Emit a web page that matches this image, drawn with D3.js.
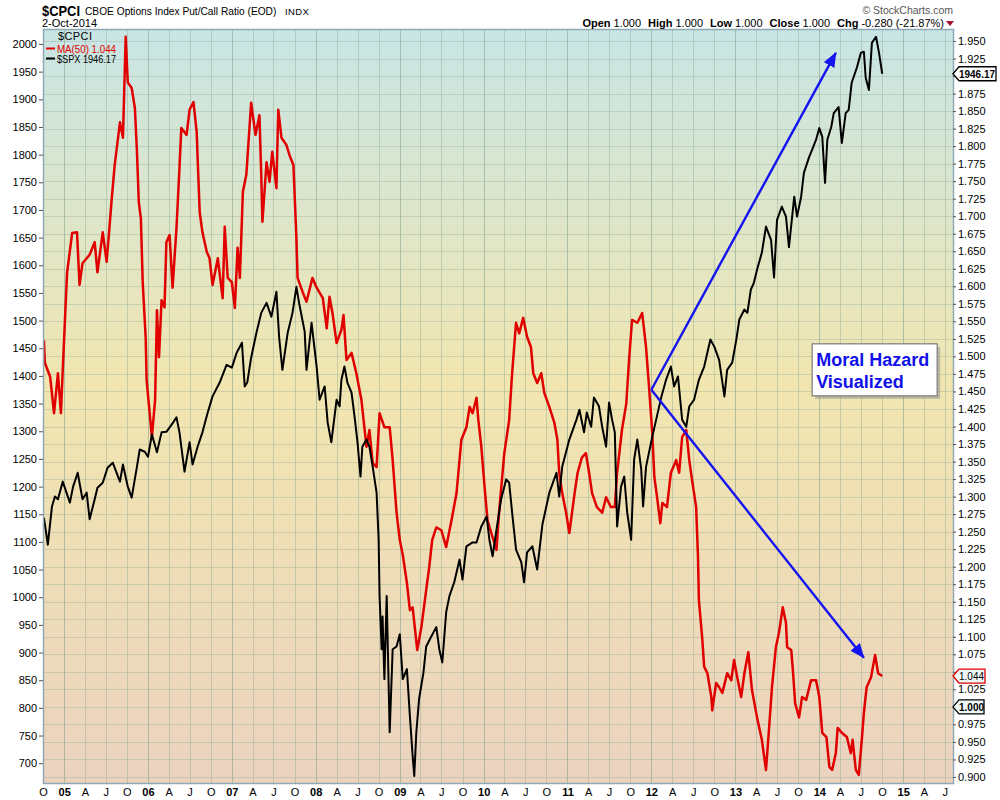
<!DOCTYPE html>
<html>
<head>
<meta charset="utf-8">
<script src="https://cdn.jsdelivr.net/npm/d3@7"></script>
<style>
  body { margin: 0; background: #fff; }
  svg { display: block; font-family: "Liberation Sans", Arial, sans-serif; }
</style>
</head>
<body>
<svg id="chart" width="1000" height="800"></svg>
<script>
// $CPCI 50-day MA (right axis)
const cpciMA50 = [
  ["2004-10-05",1.523],["2004-10-09",1.491],["2004-11-01",1.471],["2004-11-18",1.419],["2004-12-05",1.476],
  ["2004-12-18",1.419],["2004-12-26",1.481],["2005-01-05",1.555],["2005-01-14",1.620],["2005-02-05",1.676],
  ["2005-02-26",1.677],["2005-03-09",1.602],["2005-03-22",1.633],["2005-04-22",1.645],["2005-05-14",1.663],
  ["2005-05-26",1.620],["2005-06-18",1.677],["2005-07-05",1.635],["2005-07-18",1.687],["2005-07-26",1.720],
  ["2005-08-09",1.773],["2005-09-01",1.834],["2005-09-14",1.812],["2005-09-26",1.956],["2005-10-05",1.891],
  ["2005-10-22",1.883],["2005-11-05",1.854],["2005-11-14",1.792],["2005-11-22",1.720],["2005-12-01",1.697],
  ["2005-12-09",1.606],["2005-12-22",1.526],["2005-12-26",1.466],["2006-01-18",1.385],["2006-02-01",1.438],
  ["2006-02-09",1.566],["2006-02-18",1.499],["2006-03-01",1.580],["2006-03-14",1.570],["2006-03-22",1.663],
  ["2006-04-05",1.673],["2006-04-18",1.598],["2006-05-05",1.683],["2006-05-18",1.769],["2006-05-26",1.826],
  ["2006-06-18",1.816],["2006-07-01",1.852],["2006-07-18",1.863],["2006-08-01",1.820],["2006-08-05",1.783],
  ["2006-08-14",1.706],["2006-08-26",1.677],["2006-09-14",1.649],["2006-09-26",1.640],["2006-10-09",1.602],
  ["2006-11-01",1.640],["2006-11-22",1.583],["2006-12-01",1.685],["2006-12-14",1.612],["2007-01-01",1.606],
  ["2007-01-14",1.569],["2007-01-26",1.655],["2007-02-05",1.612],["2007-02-18",1.735],["2007-03-05",1.759],
  ["2007-03-26",1.862],["2007-04-14",1.816],["2007-05-01",1.844],["2007-05-09",1.759],["2007-05-14",1.692],
  ["2007-06-01",1.777],["2007-06-14",1.749],["2007-06-26",1.792],["2007-07-14",1.740],["2007-07-22",1.852],
  ["2007-08-05",1.812],["2007-08-26",1.802],["2007-09-09",1.787],["2007-09-26",1.773],["2007-10-09",1.669],
  ["2007-10-14",1.612],["2007-11-05",1.592],["2007-11-22",1.578],["2007-12-18",1.612],["2008-01-05",1.598],
  ["2008-02-01",1.583],["2008-02-18",1.540],["2008-03-01",1.585],["2008-03-14",1.562],["2008-04-01",1.519],
  ["2008-04-22",1.538],["2008-05-01",1.559],["2008-05-14",1.495],["2008-06-05",1.505],["2008-06-26",1.476],
  ["2008-07-18",1.438],["2008-08-09",1.371],["2008-08-22",1.395],["2008-09-05",1.348],["2008-09-22",1.342],
  ["2008-10-05",1.419],["2008-10-26",1.399],["2008-11-18",1.399],["2008-12-01",1.352],["2008-12-18",1.277],
  ["2009-01-01",1.238],["2009-01-14",1.217],["2009-02-01",1.177],["2009-02-14",1.138],["2009-02-26",1.142],
  ["2009-03-18",1.081],["2009-04-05",1.114],["2009-04-26",1.167],["2009-05-09",1.199],["2009-05-22",1.238],
  ["2009-06-09",1.256],["2009-07-01",1.252],["2009-07-22",1.228],["2009-08-14",1.266],["2009-09-05",1.305],
  ["2009-09-26",1.381],["2009-10-18",1.399],["2009-11-01",1.428],["2009-11-14",1.419],["2009-12-01",1.441],
  ["2009-12-09",1.409],["2009-12-22",1.371],["2010-01-05",1.314],["2010-01-18",1.266],["2010-02-09",1.242],
  ["2010-02-26",1.224],["2010-03-09",1.277],["2010-04-01",1.362],["2010-04-22",1.409],["2010-05-05",1.476],
  ["2010-05-22",1.548],["2010-06-05",1.533],["2010-06-22",1.555],["2010-07-09",1.528],["2010-07-26",1.513],
  ["2010-08-05",1.476],["2010-08-22",1.462],["2010-09-09",1.476],["2010-09-22",1.448],["2010-10-14",1.428],
  ["2010-11-05",1.405],["2010-11-18",1.381],["2010-11-26",1.334],["2010-12-09",1.305],["2010-12-26",1.277],
  ["2011-01-09",1.248],["2011-02-01",1.305],["2011-02-14",1.334],["2011-03-05",1.356],["2011-03-22",1.362],
  ["2011-04-05",1.334],["2011-04-18",1.305],["2011-05-09",1.285],["2011-06-01",1.277],["2011-06-18",1.299],
  ["2011-07-09",1.285],["2011-07-26",1.285],["2011-08-05",1.334],["2011-08-26",1.395],["2011-09-14",1.433],
  ["2011-09-26",1.495],["2011-10-09",1.552],["2011-11-01",1.548],["2011-11-22",1.562],["2011-12-09",1.513],
  ["2011-12-22",1.456],["2012-01-05",1.391],["2012-01-14",1.328],["2012-01-26",1.299],["2012-02-09",1.262],
  ["2012-02-18",1.291],["2012-03-09",1.285],["2012-03-26",1.334],["2012-04-18",1.352],["2012-05-01",1.334],
  ["2012-05-14",1.385],["2012-06-01",1.395],["2012-06-14",1.352],["2012-06-26",1.324],["2012-07-14",1.285],
  ["2012-07-22",1.214],["2012-07-26",1.152],["2012-08-09",1.100],["2012-08-18",1.057],["2012-09-01",1.048],
  ["2012-09-18",1.014],["2012-09-22",0.995],["2012-10-09",1.034],["2012-10-22",1.028],["2012-11-05",1.020],
  ["2012-11-26",1.048],["2012-12-14",1.038],["2012-12-26",1.067],["2013-01-09",1.042],["2013-01-26",1.014],
  ["2013-02-09",1.048],["2013-02-26",1.078],["2013-03-14",1.024],["2013-04-05",0.985],["2013-04-26",0.953],
  ["2013-05-14",0.910],["2013-05-26",0.963],["2013-06-09",1.028],["2013-06-26",1.085],["2013-07-09",1.105],
  ["2013-07-26",1.142],["2013-08-09",1.120],["2013-08-14",1.085],["2013-09-01",1.081],["2013-09-09",1.048],
  ["2013-09-18",1.005],["2013-10-05",0.985],["2013-10-18",1.014],["2013-11-05",1.010],["2013-11-26",1.038],
  ["2013-12-18",1.038],["2014-01-01",1.014],["2014-01-14",0.963],["2014-02-01",0.957],["2014-02-14",0.914],
  ["2014-02-26",0.910],["2014-03-14",0.934],["2014-03-22",0.970],["2014-04-09",0.963],["2014-05-01",0.957],
  ["2014-05-18",0.934],["2014-05-26",0.953],["2014-06-09",0.910],["2014-06-22",0.903],["2014-07-05",0.953],
  ["2014-07-14",0.991],["2014-07-26",1.028],["2014-08-14",1.042],["2014-09-01",1.074],["2014-09-14",1.048],
  ["2014-10-02",1.044]
];

// $SPX close (left axis)
const spxClose = [
  ["2004-10-05",1144],["2004-10-22",1095],["2004-11-09",1164],["2004-11-22",1182],["2004-12-05",1177],
  ["2004-12-26",1209],["2005-01-26",1171],["2005-02-09",1200],["2005-03-01",1225],["2005-03-22",1177],
  ["2005-04-09",1189],["2005-04-22",1141],["2005-05-14",1177],["2005-05-26",1198],["2005-06-18",1207],
  ["2005-07-09",1234],["2005-08-01",1243],["2005-09-01",1209],["2005-09-14",1240],["2005-10-05",1200],
  ["2005-10-22",1180],["2005-11-14",1236],["2005-11-26",1267],["2005-12-18",1263],["2006-01-01",1254],
  ["2006-01-18",1294],["2006-02-09",1262],["2006-03-01",1298],["2006-03-22",1299],["2006-04-14",1312],
  ["2006-05-05",1325],["2006-05-18",1298],["2006-06-09",1227],["2006-07-01",1280],["2006-07-14",1240],
  ["2006-08-05",1272],["2006-08-26",1298],["2006-09-18",1334],["2006-10-09",1363],["2006-11-09",1388],
  ["2006-12-09",1420],["2007-01-01",1415],["2007-01-22",1442],["2007-02-14",1460],["2007-02-26",1381],
  ["2007-03-09",1388],["2007-03-26",1433],["2007-04-18",1478],["2007-05-09",1514],["2007-06-01",1532],
  ["2007-06-22",1507],["2007-07-14",1552],["2007-07-26",1469],["2007-08-09",1411],["2007-09-01",1478],
  ["2007-09-22",1514],["2007-10-09",1561],["2007-10-22",1529],["2007-11-14",1480],["2007-11-22",1411],
  ["2007-12-14",1496],["2008-01-05",1417],["2008-01-18",1357],["2008-02-09",1381],["2008-02-22",1316],
  ["2008-03-09",1280],["2008-04-01",1357],["2008-04-14",1345],["2008-04-22",1393],["2008-05-05",1417],
  ["2008-05-18",1388],["2008-06-05",1370],["2008-06-18",1327],["2008-07-01",1280],["2008-07-14",1218],
  ["2008-07-22",1272],["2008-08-09",1285],["2008-08-22",1272],["2008-09-05",1236],["2008-09-22",1189],
  ["2008-10-01",1104],["2008-10-05",1002],["2008-10-14",906],["2008-10-18",965],["2008-10-26",852],
  ["2008-11-05",1002],["2008-11-18",756],["2008-12-01",906],["2008-12-18",911],["2009-01-01",933],
  ["2009-01-14",852],["2009-02-01",870],["2009-02-14",785],["2009-02-26",713],["2009-03-05",677],
  ["2009-03-14",756],["2009-03-26",816],["2009-04-14",864],["2009-04-26",911],["2009-05-18",929],
  ["2009-06-09",946],["2009-06-22",906],["2009-07-05",882],["2009-07-22",973],["2009-08-05",1002],
  ["2009-08-26",1027],["2009-09-18",1068],["2009-10-01",1032],["2009-10-18",1092],["2009-11-14",1099],
  ["2009-12-01",1099],["2009-12-22",1128],["2010-01-14",1146],["2010-01-26",1104],["2010-02-09",1074],
  ["2010-02-26",1122],["2010-03-18",1177],["2010-04-09",1213],["2010-04-22",1207],["2010-05-05",1153],
  ["2010-05-22",1086],["2010-06-14",1063],["2010-06-26",1027],["2010-07-09",1081],["2010-08-01",1092],
  ["2010-08-22",1050],["2010-09-14",1132],["2010-10-14",1189],["2010-11-14",1225],["2010-11-26",1182],
  ["2010-12-09",1236],["2011-01-09",1285],["2011-02-09",1321],["2011-02-22",1339],["2011-03-14",1298],
  ["2011-03-26",1334],["2011-04-14",1308],["2011-04-26",1361],["2011-05-18",1345],["2011-06-01",1308],
  ["2011-06-18",1272],["2011-07-01",1352],["2011-07-14",1321],["2011-07-26",1298],["2011-08-05",1128],
  ["2011-08-22",1200],["2011-09-05",1218],["2011-09-18",1153],["2011-10-05",1104],["2011-10-18",1249],
  ["2011-11-01",1285],["2011-11-18",1231],["2011-11-26",1164],["2011-12-09",1236],["2012-01-05",1290],
  ["2012-01-22",1321],["2012-02-14",1363],["2012-03-05",1393],["2012-03-26",1417],["2012-04-09",1381],
  ["2012-04-26",1399],["2012-05-14",1321],["2012-06-01",1308],["2012-06-14",1345],["2012-07-05",1357],
  ["2012-07-26",1393],["2012-08-18",1417],["2012-09-14",1466],["2012-10-01",1453],["2012-10-22",1429],
  ["2012-11-14",1363],["2012-11-26",1411],["2012-12-18",1424],["2013-01-05",1466],["2013-01-18",1502],
  ["2013-02-09",1520],["2013-02-22",1514],["2013-03-09",1556],["2013-03-22",1568],["2013-04-05",1592],
  ["2013-04-26",1623],["2013-05-14",1670],["2013-06-05",1646],["2013-06-18",1578],["2013-07-01",1682],
  ["2013-07-22",1706],["2013-08-09",1688],["2013-08-22",1633],["2013-09-14",1724],["2013-09-26",1688],
  ["2013-10-14",1724],["2013-10-26",1767],["2013-11-18",1796],["2013-12-01",1809],["2013-12-18",1827],
  ["2014-01-01",1848],["2014-01-14",1832],["2014-01-26",1749],["2014-02-05",1827],["2014-02-22",1850],
  ["2014-03-05",1875],["2014-03-26",1886],["2014-04-09",1821],["2014-04-26",1875],["2014-05-09",1881],
  ["2014-05-22",1930],["2014-06-14",1958],["2014-07-01",1984],["2014-07-14",1986],["2014-07-22",1939],
  ["2014-08-05",1917],["2014-08-18",2002],["2014-09-05",2013],["2014-09-18",1984],["2014-10-02",1946.17]
];

const spxTicks = d3.range(700, 2001, 50);
const ratioTicks = d3.range(0, 43).map(i => 0.9 + i * 0.025);
const monthLetters = { 3: "A", 6: "J", 9: "O" };

const lastMA = 1.044, lastClose = 1.000, lastSpx = 1946.17;
const quoteLine = [["Open", "1.000"], ["High", "1.000"], ["Low", "1.000"], ["Close", "1.000"], ["Chg", "-0.280 (-21.87%)"]];

// hand-drawn annotation, in chart coordinates
const arrowStart = { date: "2012-01-01", spx: 1375 };
const arrowUp = { date: "2014-03-14", spx: 1984 };
const arrowDown = { date: "2014-07-14", ratio: 1.070 };
const noteBox = { date: "2013-12-01", spx: 1458, lines: ["Moral Hazard", "Visualized"] };

const parse = d3.timeParse("%Y-%m-%d");
const svg = d3.select("#chart");

const plot = { left: 43, right: 953, top: 29, bottom: 783 };

const x = d3.scaleTime()
  .domain([parse("2004-10-01"), parse("2015-08-06")])
  .range([plot.left, plot.right]);
const yL = d3.scaleLinear().domain([664.2, 2027.1]).range([plot.bottom, plot.top]);
const yR = d3.scaleLinear().domain([0.8914, 1.9671]).range([plot.bottom, plot.top]);

const defs = svg.append("defs");
const grad = defs.append("linearGradient")
  .attr("id", "bg").attr("x1", 0).attr("y1", 0).attr("x2", 0).attr("y2", 1);
grad.append("stop").attr("offset", "0%").attr("stop-color", "#c8e5e5");
grad.append("stop").attr("offset", "47%").attr("stop-color", "#f1e6b0");
grad.append("stop").attr("offset", "100%").attr("stop-color", "#ebd3bf");

defs.append("clipPath").attr("id", "clip")
  .append("rect")
  .attr("x", plot.left).attr("y", plot.top)
  .attr("width", plot.right - plot.left).attr("height", plot.bottom - plot.top);

defs.append("marker")
  .attr("id", "arrowhead")
  .attr("viewBox", "0 -6 15 12")
  .attr("refX", 14).attr("refY", 0)
  .attr("markerUnits", "userSpaceOnUse")
  .attr("markerWidth", 15).attr("markerHeight", 12)
  .attr("orient", "auto")
  .append("path").attr("d", "M0,-6L15,0L0,6Z").attr("fill", "#1414f0");

// background
svg.append("rect")
  .attr("x", plot.left).attr("y", plot.top)
  .attr("width", plot.right - plot.left).attr("height", plot.bottom - plot.top)
  .attr("fill", "url(#bg)");

// grid
const grid = svg.append("g").attr("clip-path", "url(#clip)");
grid.selectAll("line.h")
  .data(ratioTicks)
  .join("line")
  .attr("class", "h")
  .attr("x1", plot.left).attr("x2", plot.right)
  .attr("y1", d => Math.round(yR(d)) + 0.5).attr("y2", d => Math.round(yR(d)) + 0.5)
  .attr("stroke", "#8aa595").attr("stroke-opacity", 0.35);

const quarters = x.ticks(d3.timeMonth.every(3));
grid.selectAll("line.v")
  .data(quarters)
  .join("line")
  .attr("class", "v")
  .attr("x1", d => Math.round(x(d)) + 0.5).attr("x2", d => Math.round(x(d)) + 0.5)
  .attr("y1", plot.top).attr("y2", plot.bottom)
  .attr("stroke", "#7f9c8a")
  .attr("stroke-opacity", d => d.getMonth() === 0 ? 0.55 : 0.35);

// series
const lines = svg.append("g").attr("clip-path", "url(#clip)");
lines.append("path")
  .datum(cpciMA50)
  .attr("fill", "none")
  .attr("stroke", "#e00000")
  .attr("stroke-width", 2.5)
  .attr("stroke-linejoin", "round")
  .attr("d", d3.line().x(d => x(parse(d[0]))).y(d => yR(d[1])));

lines.append("path")
  .datum(spxClose)
  .attr("fill", "none")
  .attr("stroke", "#000")
  .attr("stroke-width", 2)
  .attr("stroke-linejoin", "round")
  .attr("d", d3.line().x(d => x(parse(d[0]))).y(d => yL(d[1])));

// frame
svg.append("rect")
  .attr("x", plot.left + 0.5).attr("y", plot.top + 0.5)
  .attr("width", plot.right - plot.left).attr("height", plot.bottom - plot.top)
  .attr("fill", "none").attr("stroke", "#8fa9b5").attr("stroke-width", 1.5);

// axes
function styleAxis(g) {
  g.select(".domain").remove();
  g.selectAll(".tick line").attr("stroke", "#555");
  g.selectAll(".tick text").attr("fill", "#000").attr("font-size", 11)
    .attr("font-family", "'Liberation Sans', Arial, sans-serif");
}

svg.append("g")
  .attr("transform", `translate(${plot.left},0)`)
  .call(d3.axisLeft(yL).tickValues(spxTicks).tickSize(4).tickPadding(2).tickFormat(d3.format("d")))
  .call(styleAxis);

// right-axis labels hidden behind the last-value tags are left out
const tagYs = [yL(lastSpx), yR(lastMA), yR(lastClose)];
const fmtRatio = d3.format(".3f");
svg.append("g")
  .attr("transform", `translate(${plot.right},0)`)
  .call(d3.axisRight(yR).tickValues(ratioTicks).tickSize(3).tickPadding(2)
    .tickFormat(d => tagYs.some(t => Math.abs(t - yR(d)) < 8) ? "" : fmtRatio(d)))
  .call(styleAxis);

svg.append("g")
  .attr("transform", `translate(0,${plot.bottom})`)
  .call(d3.axisBottom(x).tickValues(quarters).tickSize(0).tickPadding(5)
    .tickFormat(d => d.getMonth() === 0 ? d3.timeFormat("%y")(d) : monthLetters[d.getMonth()]))
  .call(styleAxis)
  .call(g => g.selectAll(".tick text")
    .attr("font-weight", d => d.getMonth() === 0 ? "bold" : "normal"));

// last-value tags on the right axis
function valueTag(y, label, stroke, fill, bold, width, textWidth) {
  const g = svg.append("g").attr("transform", `translate(${plot.right},${y})`);
  g.append("path")
    .attr("d", `M0,0L6,-7L${width},-7L${width},7L6,7Z`)
    .attr("fill", fill).attr("stroke", stroke).attr("stroke-width", 1.3);
  g.append("text")
    .attr("x", 6).attr("y", 4)
    .attr("font-size", 11)
    .attr("font-weight", bold ? "bold" : "normal")
    .attr("textLength", textWidth).attr("lengthAdjust", "spacingAndGlyphs")
    .attr("fill", "#000")
    .text(label);
}
valueTag(yL(lastSpx), d3.format(".2f")(lastSpx), "#000", "#fff", true, 43, 36);
valueTag(yR(lastMA), fmtRatio(lastMA), "#e00000", "#eef8f8", false, 32, 25);
valueTag(yR(lastClose), fmtRatio(lastClose), "#000", "#eef8f8", true, 31, 25);

// header
svg.append("text").attr("x", 42).attr("y", 16)
  .attr("font-size", 14).attr("font-weight", "bold")
  .attr("textLength", 38).attr("lengthAdjust", "spacingAndGlyphs").text("$CPCI");
svg.append("text").attr("x", 85).attr("y", 15)
  .attr("font-size", 10.2)
  .text("CBOE Options Index Put/Call Ratio (EOD)");
svg.append("text").attr("x", 285).attr("y", 15)
  .attr("font-size", 9.5).attr("letter-spacing", 0.4).text("INDX");
svg.append("text").attr("x", 42).attr("y", 27)
  .attr("font-size", 11).text("2-Oct-2014");

svg.append("text").attr("x", 953).attr("y", 14).attr("text-anchor", "end")
  .attr("font-size", 10.5).attr("fill", "#555").text("\u00a9 StockCharts.com");

const quote = svg.append("text").attr("x", 944).attr("y", 27)
  .attr("text-anchor", "end").attr("font-size", 11);
quoteLine.forEach(([k, v], i) => {
  quote.append("tspan").attr("font-weight", "bold").attr("dx", i ? 7 : 0).text(k);
  quote.append("tspan").attr("dx", 3).text(v);
});
svg.append("path").attr("d", "M946,21L954,21L950,26Z").attr("fill", "#a0102a");

// legend
const legend = svg.append("g").attr("font-size", 11);
legend.append("text").attr("x", 58).attr("y", 40)
  .attr("textLength", 34).attr("lengthAdjust", "spacing").text("$CPCI");
legend.append("line").attr("x1", 46).attr("x2", 55).attr("y1", 48.5).attr("y2", 48.5)
  .attr("stroke", "#e00000").attr("stroke-width", 2);
legend.append("text").attr("x", 57).attr("y", 53).attr("fill", "#e00000")
  .attr("textLength", 59).attr("lengthAdjust", "spacingAndGlyphs")
  .text(`MA(50) ${fmtRatio(lastMA)}`);
legend.append("line").attr("x1", 46).attr("x2", 55).attr("y1", 58.5).attr("y2", 58.5)
  .attr("stroke", "#000").attr("stroke-width", 2);
legend.append("text").attr("x", 57).attr("y", 63)
  .attr("textLength", 59).attr("lengthAdjust", "spacingAndGlyphs")
  .text(`$SPX ${d3.format(".2f")(lastSpx)}`);

// annotation arrows
const x0 = x(parse(arrowStart.date)), y0 = yL(arrowStart.spx);
[[x(parse(arrowUp.date)), yL(arrowUp.spx)], [x(parse(arrowDown.date)), yR(arrowDown.ratio)]]
  .forEach(([x1, y1]) => {
    svg.append("line")
      .attr("x1", x0).attr("y1", y0).attr("x2", x1).attr("y2", y1)
      .attr("stroke", "#1414f0").attr("stroke-width", 2.4)
      .attr("marker-end", "url(#arrowhead)");
  });

// annotation box
const bx = x(parse(noteBox.date)), by = yL(noteBox.spx);
svg.append("rect").attr("x", bx + 3).attr("y", by + 3).attr("width", 125).attr("height", 52)
  .attr("fill", "#9a9a9a").attr("opacity", 0.6);
svg.append("rect").attr("x", bx).attr("y", by).attr("width", 125).attr("height", 52)
  .attr("fill", "#fff").attr("stroke", "#7a7a7a").attr("stroke-width", 1.2);
svg.append("g")
  .selectAll("text")
  .data(noteBox.lines)
  .join("text")
  .attr("x", bx + 4)
  .attr("y", (d, i) => by + 22 + i * 22)
  .attr("font-size", 18).attr("font-weight", "bold").attr("fill", "#1010e8")
  .text(d => d);
</script>
</body>
</html>
